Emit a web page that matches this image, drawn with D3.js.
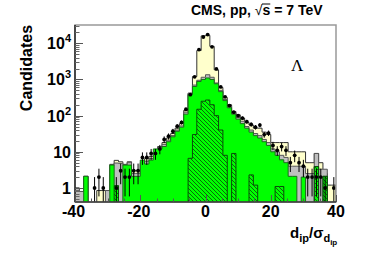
<!DOCTYPE html>
<html>
<head>
<meta charset="utf-8">
<script src="https://cdn.jsdelivr.net/npm/d3@7"></script>
<style>
  body { margin: 0; background: #fff; }
  svg { display: block; }
</style>
</head>
<body>
<div id="chart"></div>
<script>
// 60 bins of width 4/3 over [-40, 40]
var binLo = -40, binHi = 40, nBins = 60;

// data points (counts per bin, 0 = no point)
var dataCounts = [0, 0, 0, 0, 1, 2, 1, 0, 0, 1,
  3, 2, 2, 3, 3, 7, 7, 9, 9, 12,
  22, 27, 37, 51, 65, 150, 380, 1180, 6700, 14900,
  17400, 8000, 1950, 620, 330, 190, 125, 100, 85, 68,
  57, 48, 55, 30, 33, 15, 11, 14, 11, 5,
  8, 5, 4, 2, 2, 2, 2, 1, 0, 1];

// stacked simulation, cumulative heights
var yellowStack = [1.0, 0.8, 2.1, 0, 0, 0.85, 0.85, 0.85, 4.5, 5.8,
  5.3, 4.5, 5.3, 3.0, 3.0, 5.0, 6.5, 7.5, 8, 14,
  18, 24, 32, 45, 60, 140, 420, 1200, 6300, 16000,
  16500, 8200, 1850, 600, 320, 200, 130, 105, 85, 65,
  55, 45, 45, 35, 30, 18, 18, 18, 18, 10,
  10, 10, 10, 5, 5, 9, 5, 2.5, 1.2, 1.2];

var grayStack = [1.0, 0.8, 2.1, 0, 0, 0, 0, 0.85, 4.3, 4.9,
  4.8, 4.3, 5.0, 2.5, 2.5, 4.5, 5.5, 6.5, 7, 13,
  16, 21, 28, 40, 52, 125, 400, 700, 950, 1150,
  1350, 1150, 800, 500, 280, 180, 120, 90, 70, 50,
  40, 32, 28, 22, 18, 12, 10, 8, 7, 4,
  4, 4, 4, 2.5, 2.5, 9, 3.3, 3.3, 0, 0];

var greenStack = [0, 0, 2.1, 0, 0, 0, 0, 0, 4.3, 1.15,
  0, 4.3, 4.3, 2.1, 2.1, 5.9, 4.6, 5.9, 12, 12,
  14, 19, 26, 37, 48, 110, 380, 640, 880, 1000,
  1100, 1000, 760, 460, 260, 165, 110, 80, 60, 45,
  35, 28, 24, 19, 15, 10, 8, 6, 5, 2.1,
  2.1, 0, 2.0, 0, 0, 3.9, 0, 2.1, 0, 0];

// hatched component
var hatchHist = [0, 0, 0, 0, 0, 0, 0, 0, 0, 1.15,
  0, 0, 0, 0, 0, 0, 0, 0, 0, 0,
  0, 0, 0, 0, 0, 0, 6.6, 30, 150, 250,
  270, 200, 100, 40, 8, 0, 9, 0, 0, 0,
  2.3, 1.2, 0, 0, 0, 0, 1.1, 1.1, 0, 0,
  0, 0, 0, 0, 0, 3.9, 0, 2.1, 0, 0];

var xTicks = [-40, -20, 0, 20, 40];
var yTicks = [1, 10, 100, 1000, 10000];
var yTickLabels = ["1", "10", "10^2", "10^3", "10^4"];

var width = 374, height = 253;
var margin = { left: 75, right: 38, top: 25, bottom: 51 };
var x0 = margin.left, x1 = width - margin.right;
var y0 = height - margin.bottom, y1 = margin.top;

var svg = d3.select("#chart").append("svg")
  .attr("width", width)
  .attr("height", height)
  .style("font-family", "'Liberation Sans', Arial, sans-serif");

var x = d3.scaleLinear().domain([binLo, binHi]).range([x0, x1]);
var y = d3.scaleLog().domain([0.41, 32000]).range([y0, y1]).clamp(true);

var binW = (binHi - binLo) / nBins;

svg.append("defs").append("clipPath").attr("id", "frame")
  .append("rect").attr("x", x0).attr("y", y1).attr("width", x1 - x0).attr("height", y0 - y1);

var hatch = svg.select("defs").append("pattern")
  .attr("id", "hatch")
  .attr("patternUnits", "userSpaceOnUse")
  .attr("width", 4).attr("height", 4);
hatch.append("path")
  .attr("d", "M-1,-1L5,5M-1,3L1,5M3,-1L5,1")
  .attr("stroke", "#0a5a0a")
  .attr("stroke-width", 0.9);

function stepPath(vals) {
  var yv = function (v) { return v > 0 ? y(v) : y0 + 2; };
  var d = "M" + x(binLo) + "," + (y0 + 2);
  vals.forEach(function (v, i) {
    var xl = x(binLo + i * binW), xr = x(binLo + (i + 1) * binW);
    d += "L" + xl + "," + yv(v) + "L" + xr + "," + yv(v);
  });
  d += "L" + x(binHi) + "," + (y0 + 2) + "Z";
  return d;
}

var plot = svg.append("g").attr("clip-path", "url(#frame)");

plot.append("path").attr("d", stepPath(yellowStack))
  .attr("fill", "#ffffcc").attr("stroke", "#333").attr("stroke-width", 1);
plot.append("path").attr("d", stepPath(grayStack))
  .attr("fill", "#bfbfbf").attr("stroke", "#555").attr("stroke-width", 1);
plot.append("path").attr("d", stepPath(greenStack))
  .attr("fill", "#00ff00").attr("stroke", "#1a6a1a").attr("stroke-width", 1);
plot.append("path").attr("d", stepPath(hatchHist))
  .attr("fill", "url(#hatch)").attr("stroke", "#0a4a0a").attr("stroke-width", 1);

// data points with poisson errors
var pts = dataCounts.map(function (n, i) {
  return { x: binLo + (i + 0.5) * binW, n: n };
}).filter(function (d) { return d.n > 0; });

plot.selectAll("line.err").data(pts).join("line")
  .attr("class", "err")
  .attr("x1", function (d) { return x(d.x); })
  .attr("x2", function (d) { return x(d.x); })
  .attr("y1", function (d) { var lo = d.n - Math.sqrt(d.n); return lo > 0 ? y(lo) : y0 + 2; })
  .attr("y2", function (d) { return y(d.n + Math.sqrt(d.n)); })
  .attr("stroke", "#000").attr("stroke-width", 1);

plot.selectAll("circle.pt").data(pts).join("circle")
  .attr("class", "pt")
  .attr("cx", function (d) { return x(d.x); })
  .attr("cy", function (d) { return y(d.n); })
  .attr("r", 1.9)
  .attr("fill", "#000");

// frame
svg.append("rect").attr("x", x0).attr("y", y1).attr("width", x1 - x0).attr("height", y0 - y1)
  .attr("fill", "none").attr("stroke", "#999").attr("stroke-width", 1.5);
svg.append("line").attr("x1", x0).attr("x2", x0).attr("y1", y1).attr("y2", y0)
  .attr("stroke", "#000").attr("stroke-width", 1.2);
svg.append("line").attr("x1", x0).attr("x2", x1).attr("y1", y0).attr("y2", y0)
  .attr("stroke", "#000").attr("stroke-width", 1.2);

// y ticks
var yMinor = [];
[0.1, 1, 10, 100, 1000, 10000].forEach(function (dec) {
  for (var k = 2; k <= 9; k++) {
    var v = dec * k;
    if (v > 0.41 && v < 32000) yMinor.push(v);
  }
});
svg.selectAll("line.ymin").data(yMinor).join("line")
  .attr("x1", x0).attr("x2", x0 + 4.5)
  .attr("y1", function (d) { return Math.round(y(d)) + 0.5; })
  .attr("y2", function (d) { return Math.round(y(d)) + 0.5; })
  .attr("stroke", "#666").attr("stroke-width", 1);
svg.selectAll("line.ymaj").data(yTicks).join("line")
  .attr("x1", x0).attr("x2", x0 + 8)
  .attr("y1", function (d) { return Math.round(y(d)) + 0.5; })
  .attr("y2", function (d) { return Math.round(y(d)) + 0.5; })
  .attr("stroke", "#555").attr("stroke-width", 1);

var yl = svg.selectAll("text.ylab").data(yTicks).join("text")
  .attr("class", "ylab")
  .attr("x", 71)
  .attr("y", function (d) { return y(d) + 6; })
  .attr("text-anchor", "end")
  .attr("font-size", 16).attr("font-weight", "bold");
yl.each(function (d, i) {
  var t = d3.select(this), lab = yTickLabels[i];
  if (lab.indexOf("^") > 0) {
    var p = lab.split("^");
    t.append("tspan").text(p[0]);
    t.append("tspan").attr("dy", -7).attr("font-size", 11).text(p[1]);
  } else {
    t.text(lab);
  }
});

// x ticks
var xMinor = d3.range(-35, 40, 5).filter(function (v) { return xTicks.indexOf(v) < 0; });
svg.selectAll("line.xmin").data(xMinor).join("line")
  .attr("x1", function (d) { return Math.round(x(d)) + 0.5; })
  .attr("x2", function (d) { return Math.round(x(d)) + 0.5; })
  .attr("y1", y0).attr("y2", y0 - 3.5)
  .attr("stroke", "#555").attr("stroke-width", 1);
svg.selectAll("line.xmaj").data(xTicks).join("line")
  .attr("x1", function (d) { return Math.round(x(d)) + 0.5; })
  .attr("x2", function (d) { return Math.round(x(d)) + 0.5; })
  .attr("y1", y0).attr("y2", y0 - 7)
  .attr("stroke", "#555").attr("stroke-width", 1);
svg.selectAll("text.xlab").data(xTicks).join("text")
  .attr("class", "xlab")
  .attr("x", function (d) { return x(d) - (d < 0 ? 1.5 : 0); })
  .attr("y", 217)
  .attr("text-anchor", "middle")
  .attr("font-size", 16).attr("font-weight", "bold")
  .text(function (d) { return d < 0 ? "-" + Math.abs(d) : d; });

// axis titles
svg.append("text")
  .attr("transform", "translate(32,68) rotate(-90)")
  .attr("text-anchor", "middle")
  .attr("font-size", 16).attr("font-weight", "bold")
  .text("Candidates");

var xt = svg.append("text").attr("x", 290).attr("y", 238)
  .attr("font-weight", "bold").attr("font-size", 15);
xt.append("tspan").text("d");
xt.append("tspan").attr("font-size", 11).attr("dy", 4).text("ip");
xt.append("tspan").attr("dy", -4).text("/");
xt.append("tspan").attr("font-size", 15).text("σ");
xt.append("tspan").attr("font-size", 11).attr("dy", 4).text("d");
xt.append("tspan").attr("font-size", 8).attr("dy", 3).text("ip");

// title
var title = svg.append("text").attr("x", 191).attr("y", 15)
  .attr("font-size", 14).attr("font-weight", "bold");
title.append("tspan").text("CMS, pp, ");
title.append("tspan").attr("font-weight", "normal").text("√");
title.append("tspan").text("s = 7 TeV");
var sBox = title.node().getExtentOfChar(10);
svg.append("line")
  .attr("x1", sBox.x - 0.5).attr("x2", sBox.x + sBox.width)
  .attr("y1", 4).attr("y2", 4)
  .attr("stroke", "#000").attr("stroke-width", 1);

svg.append("text").attr("x", 291).attr("y", 71)
  .attr("font-family", "'Liberation Serif', 'Times New Roman', serif")
  .attr("font-size", 17)
  .text("Λ");
</script>
</body>
</html>
